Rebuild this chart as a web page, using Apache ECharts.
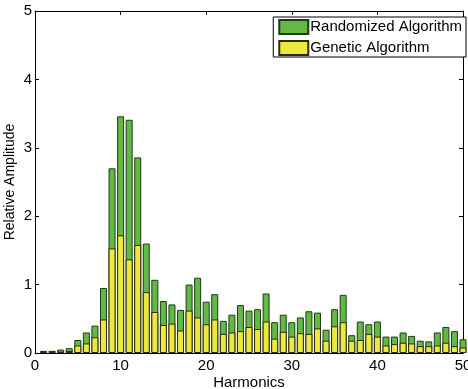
<!DOCTYPE html>
<html>
<head>
<meta charset="utf-8">
<script src="https://cdn.jsdelivr.net/npm/echarts@6/dist/echarts.min.js"></script>
<style>
  html, body { margin: 0; padding: 0; background: #fff; }
  #chart { width: 468px; height: 389px; }
</style>
</head>
<body>
<div id="chart"></div>
<script>
// harmonic numbers 1..50
var harmonics = [];
for (var i = 1; i <= 50; i++) harmonics.push(i);

// relative amplitudes
var randomized = [0.03, 0.03, 0.05, 0.07, 0.19, 0.30, 0.40, 0.95, 2.70, 3.46,
                  3.41, 2.86, 1.60, 1.07, 0.76, 0.71, 0.63, 1.00, 1.10, 0.75,
                  0.86, 0.47, 0.56, 0.70, 0.62, 0.64, 0.87, 0.45, 0.56, 0.45,
                  0.52, 0.61, 0.59, 0.34, 0.64, 0.85, 0.26, 0.46, 0.42, 0.46,
                  0.24, 0.24, 0.30, 0.25, 0.18, 0.17, 0.30, 0.38, 0.32, 0.20];
var genetic = [0.03, 0.03, 0.02, 0.03, 0.11, 0.14, 0.23, 0.49, 1.53, 1.72,
               1.37, 1.58, 0.89, 0.60, 0.41, 0.43, 0.33, 0.62, 0.52, 0.42,
               0.49, 0.28, 0.30, 0.32, 0.38, 0.35, 0.46, 0.21, 0.31, 0.24,
               0.29, 0.28, 0.36, 0.18, 0.39, 0.45, 0.18, 0.19, 0.28, 0.24,
               0.11, 0.13, 0.15, 0.14, 0.10, 0.10, 0.11, 0.15, 0.10, 0.08];

var chart = echarts.init(document.getElementById('chart'));

var fontFam = 'Liberation Sans, Arial, sans-serif';
var tickFont = { color: '#000', fontSize: 15, fontFamily: fontFam };
var lineStyle = { color: '#000', width: 1 };

function pairs(vals) {
    return vals.map(function (v, i) { return [harmonics[i], v]; });
}

var option = {
    animation: false,
    backgroundColor: '#fff',
    grid: { left: 35, right: 5, top: 11, bottom: 36, containLabel: false, outerBoundsMode: 'none' },
    legend: {
        data: ['Randomized Algorithm', 'Genetic Algorithm'],
        orient: 'vertical',
        right: 2,
        top: 17,
        icon: 'rect',
        itemWidth: 29,
        itemHeight: 14,
        itemGap: 5,
        padding: [2, 4, 1, 5],
        borderColor: '#000',
        borderWidth: 1,
        backgroundColor: '#fff',
        textStyle: { color: '#000', fontSize: 15, fontFamily: fontFam, padding: [0, 0, 0, -3] }
    },
    xAxis: [{
        type: 'value',
        min: 0, max: 50, interval: 10,
        name: 'Harmonics',
        nameLocation: 'middle',
        nameGap: 22,
        nameMoveOverlap: false,
        nameTextStyle: { color: '#000', fontSize: 15, fontFamily: fontFam, verticalAlign: 'top' },
        axisLine: { show: true, lineStyle: lineStyle },
        axisTick: { show: true, inside: true, length: 4, lineStyle: lineStyle },
        axisLabel: Object.assign({ margin: 5 }, tickFont),
        splitLine: { show: false }
    }, {
        type: 'value',
        position: 'top',
        min: 0, max: 50, interval: 10,
        axisLine: { show: true, onZero: false, lineStyle: lineStyle },
        axisTick: { show: true, inside: true, length: 4, lineStyle: lineStyle },
        axisLabel: { show: false },
        splitLine: { show: false }
    }],
    yAxis: [{
        type: 'value',
        min: 0, max: 5, interval: 1,
        name: 'Relative Amplitude',
        nameLocation: 'middle',
        nameGap: 18,
        nameMoveOverlap: false,
        nameTextStyle: { color: '#000', fontSize: 14, fontFamily: fontFam },
        axisLine: { show: true, lineStyle: lineStyle },
        axisTick: { show: true, inside: true, length: 4, lineStyle: lineStyle },
        axisLabel: Object.assign({ margin: 3 }, tickFont),
        splitLine: { show: false }
    }, {
        type: 'value',
        position: 'right',
        min: 0, max: 5, interval: 1,
        axisLine: { show: true, onZero: false, lineStyle: lineStyle },
        axisTick: { show: true, inside: true, length: 4, lineStyle: lineStyle },
        axisLabel: { show: false },
        splitLine: { show: false }
    }],
    series: [{
        name: 'Randomized Algorithm',
        type: 'bar',
        xAxisIndex: 0,
        yAxisIndex: 0,
        barWidth: 7,
        barGap: '-100%',
        data: pairs(randomized),
        itemStyle: { color: '#63b946', borderColor: '#1e3a14', borderWidth: 1 }
    }, {
        name: 'Genetic Algorithm',
        type: 'bar',
        xAxisIndex: 0,
        yAxisIndex: 0,
        barWidth: 7,
        barGap: '-100%',
        data: pairs(genetic),
        itemStyle: { color: '#ece83c', borderColor: '#2a2a10', borderWidth: 1 }
    }]
};

chart.setOption(option);
window.addEventListener('resize', chart.resize);
</script>
</body>
</html>
